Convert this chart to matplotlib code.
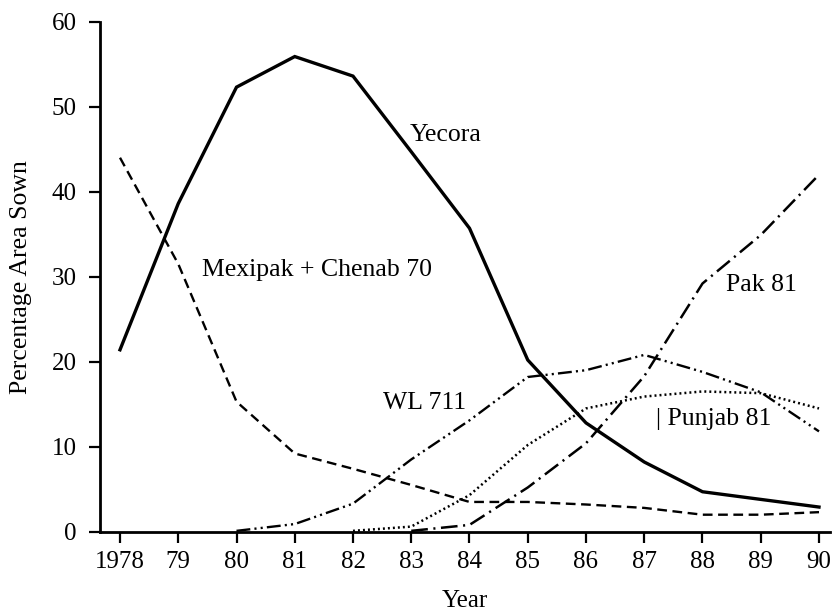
import matplotlib
matplotlib.use("Agg")
import matplotlib.pyplot as plt

years = list(range(1978, 1991))
yecora = [21.4, 38.6, 52.3, 55.9, 53.6, 44.7, 35.7, 20.2, 12.8, 8.2, 4.7, 3.8, 2.9]
mexipak = [44.0, 31.5, 15.3, 9.2, 7.4, 5.5, 3.5, 3.5, 3.2, 2.8, 2.0, 2.0, 2.3]
wl_years = list(range(1980, 1991))
wl711 = [0.1, 0.9, 3.3, 8.5, 13.1, 18.2, 19.0, 20.8, 18.8, 16.4, 11.8]
pj_years = list(range(1982, 1991))
punjab81 = [0.1, 0.6, 4.3, 10.2, 14.5, 15.9, 16.5, 16.3, 14.5]
pak_years = list(range(1983, 1991))
pak81 = [0.1, 0.8, 5.2, 10.4, 18.3, 29.2, 34.9, 42.0]
xtick_labels = ["1978", "79", "80", "81", "82", "83", "84", "85", "86", "87", "88", "89", "90"]
yticks = [0, 10, 20, 30, 40, 50, 60]

plt.rcParams['font.family'] = ['Liberation Serif', 'DejaVu Serif']
plt.rcParams['lines.scale_dashes'] = False

fig = plt.figure(figsize=(8.39, 6.13), dpi=100)
ax = fig.add_axes([100/839, 1-531.7/613, 730/839, 510/613])

ax.plot(years, yecora, color='black', lw=2.4, solid_joinstyle='miter')
ax.plot(years, mexipak, color='black', lw=1.7, linestyle=(0, (7, 4)))
ax.plot(wl_years, wl711, color='black', lw=1.7, linestyle=(0, (10, 3, 1.5, 3, 1.5, 3)))
ax.plot(pj_years, punjab81, color='black', lw=1.8, linestyle=(0, (1.4, 2.2)))
ax.plot(pak_years, pak81, color='black', lw=1.8, linestyle=(0, (12, 4, 1.5, 4)))

ax.set_xlim(1978 - 20/58.25, 1990 + 11/58.25)
ax.set_ylim(0, 60)
ax.set_xticks(years)
ax.set_xticklabels(xtick_labels)
ax.set_yticks(yticks)

for s in ['top', 'right']:
    ax.spines[s].set_visible(False)
for s in ['left', 'bottom']:
    ax.spines[s].set_linewidth(2.0)
ax.tick_params(axis='x', direction='out', length=8, width=1.6, labelsize=18, pad=6)
ax.tick_params(axis='y', direction='out', length=8, width=1.6, labelsize=18, pad=9)

ax.set_xlabel('Year', fontsize=18, labelpad=12)
ax.set_ylabel('Percentage Area Sown', fontsize=18.5, labelpad=14)

txt = dict(fontsize=18.5, va='center', ha='left')
ax.text(1982.98, 46.7, 'Yecora', **txt)
ax.text(1979.4, 30.8, 'Mexipak + Chenab 70', **txt)
ax.text(1982.52, 15.1, 'WL 711', **txt)
ax.text(1988.4, 29.0, 'Pak 81', **txt)
ax.text(1987.2, 13.3, '| Punjab 81', **txt)

fig.savefig('out.png', dpi=100)
